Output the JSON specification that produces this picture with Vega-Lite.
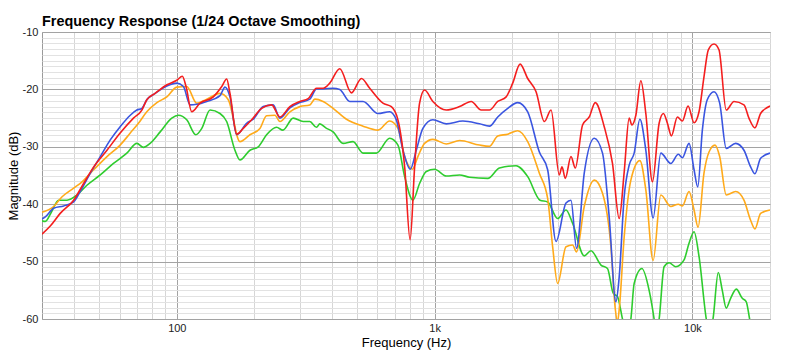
{
"$schema": "https://vega.github.io/schema/vega-lite/v6.json",
"width": 728, "height": 287,
"autosize": {"type": "none"},
"padding": {"left": 42, "top": 32, "right": 30, "bottom": 36},
"background": "white",
"config": {"view": {"stroke": "#9a9a9a", "strokeWidth": 1}, "font": "Liberation Sans"},
"title": {"text": "Frequency Response (1/24 Octave Smoothing)", "anchor": "start", "frame": "group", "font": "Liberation Sans", "fontSize": 14.4, "fontWeight": "bold", "color": "#000", "offset": 3, "dy": 6},
"data": {"values": [
{"s":"s1","f":30,"db":-42.9},{"s":"s1","f":30.9,"db":-43.0},{"s":"s1","f":32.6,"db":-41.4},{"s":"s1","f":34.8,"db":-39.3},{"s":"s1","f":37.5,"db":-39.3},{"s":"s1","f":41.0,"db":-38.4},{"s":"s1","f":44.8,"db":-36.7},{"s":"s1","f":50.5,"db":-34.9},{"s":"s1","f":56.8,"db":-32.9},{"s":"s1","f":64.0,"db":-31.1},{"s":"s1","f":70.0,"db":-29.4},{"s":"s1","f":74.2,"db":-30.1},{"s":"s1","f":78.8,"db":-29.4},{"s":"s1","f":86.2,"db":-27.4},{"s":"s1","f":95.6,"db":-25.0},{"s":"s1","f":101.4,"db":-24.5},{"s":"s1","f":109.3,"db":-25.3},{"s":"s1","f":118.5,"db":-27.9},{"s":"s1","f":125.0,"db":-26.8},{"s":"s1","f":134.6,"db":-23.6},{"s":"s1","f":147.1,"db":-24.2},{"s":"s1","f":156.1,"db":-25.6},{"s":"s1","f":168.1,"db":-30.6},{"s":"s1","f":175.8,"db":-32.3},{"s":"s1","f":192.2,"db":-30.6},{"s":"s1","f":207.0,"db":-30.0},{"s":"s1","f":223.0,"db":-27.9},{"s":"s1","f":243.8,"db":-26.6},{"s":"s1","f":257.9,"db":-27.1},{"s":"s1","f":282.8,"db":-25.0},{"s":"s1","f":309.1,"db":-25.6},{"s":"s1","f":328.1,"db":-25.6},{"s":"s1","f":348.3,"db":-26.6},{"s":"s1","f":358.7,"db":-26.0},{"s":"s1","f":378.4,"db":-26.7},{"s":"s1","f":403.9,"db":-27.4},{"s":"s1","f":441.5,"db":-29.4},{"s":"s1","f":482.6,"db":-29.1},{"s":"s1","f":527.8,"db":-31.1},{"s":"s1","f":594.7,"db":-31.1},{"s":"s1","f":669.4,"db":-28.5},{"s":"s1","f":720.8,"db":-29.7},{"s":"s1","f":765.3,"db":-35.2},{"s":"s1","f":823.9,"db":-39.3},{"s":"s1","f":874.5,"db":-36.4},{"s":"s1","f":928.6,"db":-34.3},{"s":"s1","f":1000,"db":-33.9},{"s":"s1","f":1110,"db":-35.1},{"s":"s1","f":1250,"db":-34.9},{"s":"s1","f":1366,"db":-35.3},{"s":"s1","f":1608,"db":-35.5},{"s":"s1","f":1784,"db":-33.7},{"s":"s1","f":2071,"db":-33.3},{"s":"s1","f":2297,"db":-35.2},{"s":"s1","f":2564,"db":-39.3},{"s":"s1","f":2745,"db":-39.6},{"s":"s1","f":3001,"db":-42.5},{"s":"s1","f":3234,"db":-41.0},{"s":"s1","f":3429,"db":-43.3},{"s":"s1","f":3806,"db":-49.0},{"s":"s1","f":4043,"db":-48.1},{"s":"s1","f":4418,"db":-50.6},{"s":"s1","f":4684,"db":-51.2},{"s":"s1","f":4929,"db":-55.5},{"s":"s1","f":5122,"db":-56.1},{"s":"s1","f":5356,"db":-60.0},{"s":"s1","f":5535,"db":-62.8},{"s":"s1","f":5772,"db":-60.0},{"s":"s1","f":5945,"db":-53.8},{"s":"s1","f":6367,"db":-51.2},{"s":"s1","f":6795,"db":-55.0},{"s":"s1","f":7104,"db":-60.0},{"s":"s1","f":7231,"db":-62.5},{"s":"s1","f":7430,"db":-60.0},{"s":"s1","f":7766,"db":-50.9},{"s":"s1","f":8121,"db":-50.2},{"s":"s1","f":8619,"db":-50.9},{"s":"s1","f":9282,"db":-49.7},{"s":"s1","f":9705,"db":-46.8},{"s":"s1","f":10150,"db":-44.8},{"s":"s1","f":10610,"db":-49.1},{"s":"s1","f":11320,"db":-60.0},{"s":"s1","f":11600,"db":-62.5},{"s":"s1","f":12020,"db":-60.0},{"s":"s1","f":12600,"db":-51.9},{"s":"s1","f":13060,"db":-55.0},{"s":"s1","f":13530,"db":-58.1},{"s":"s1","f":14070,"db":-56.4},{"s":"s1","f":14800,"db":-54.8},{"s":"s1","f":15610,"db":-56.4},{"s":"s1","f":16180,"db":-57.0},{"s":"s1","f":16670,"db":-60.0},{"s":"s1","f":17170,"db":-63.0},
{"s":"s2","f":30,"db":-41.4},{"s":"s2","f":33.3,"db":-40.4},{"s":"s2","f":35.9,"db":-38.7},{"s":"s2","f":39.8,"db":-37.2},{"s":"s2","f":42.9,"db":-36.1},{"s":"s2","f":47.6,"db":-34.0},{"s":"s2","f":53.6,"db":-31.7},{"s":"s2","f":60.3,"db":-29.7},{"s":"s2","f":66.0,"db":-27.6},{"s":"s2","f":71.0,"db":-25.9},{"s":"s2","f":76.5,"db":-23.9},{"s":"s2","f":83.7,"db":-22.3},{"s":"s2","f":91.5,"db":-21.3},{"s":"s2","f":100,"db":-19.6},{"s":"s2","f":109.3,"db":-19.5},{"s":"s2","f":119.5,"db":-22.4},{"s":"s2","f":130.7,"db":-21.7},{"s":"s2","f":147.1,"db":-20.7},{"s":"s2","f":158.4,"db":-21.8},{"s":"s2","f":175.8,"db":-29.1},{"s":"s2","f":192.2,"db":-27.9},{"s":"s2","f":210.1,"db":-26.8},{"s":"s2","f":223.0,"db":-24.6},{"s":"s2","f":240.3,"db":-24.5},{"s":"s2","f":251.1,"db":-25.6},{"s":"s2","f":274.6,"db":-23.9},{"s":"s2","f":300.1,"db":-23.0},{"s":"s2","f":328.1,"db":-22.7},{"s":"s2","f":343.2,"db":-21.7},{"s":"s2","f":369.3,"db":-22.1},{"s":"s2","f":403.9,"db":-23.3},{"s":"s2","f":455.2,"db":-25.2},{"s":"s2","f":527.8,"db":-26.4},{"s":"s2","f":603.1,"db":-27.1},{"s":"s2","f":669.4,"db":-25.5},{"s":"s2","f":720.8,"db":-26.8},{"s":"s2","f":765.3,"db":-31.7},{"s":"s2","f":819.6,"db":-33.9},{"s":"s2","f":861.3,"db":-31.7},{"s":"s2","f":914.5,"db":-29.4},{"s":"s2","f":984.7,"db":-28.7},{"s":"s2","f":1110,"db":-29.5},{"s":"s2","f":1250,"db":-28.9},{"s":"s2","f":1494,"db":-29.7},{"s":"s2","f":1632,"db":-29.9},{"s":"s2","f":1758,"db":-28.1},{"s":"s2","f":1922,"db":-27.8},{"s":"s2","f":2101,"db":-27.2},{"s":"s2","f":2297,"db":-29.1},{"s":"s2","f":2549,"db":-34.6},{"s":"s2","f":2745,"db":-39.0},{"s":"s2","f":2870,"db":-47.4},{"s":"s2","f":3001,"db":-53.8},{"s":"s2","f":3234,"db":-47.4},{"s":"s2","f":3429,"db":-47.1},{"s":"s2","f":3553,"db":-48.3},{"s":"s2","f":3806,"db":-40.4},{"s":"s2","f":4163,"db":-35.8},{"s":"s2","f":4481,"db":-38.1},{"s":"s2","f":4830,"db":-47.4},{"s":"s2","f":5018,"db":-58.1},{"s":"s2","f":5122,"db":-60.5},{"s":"s2","f":5200,"db":-58.4},{"s":"s2","f":5438,"db":-45.7},{"s":"s2","f":5772,"db":-35.8},{"s":"s2","f":6255,"db":-32.4},{"s":"s2","f":6597,"db":-37.5},{"s":"s2","f":7042,"db":-49.8},{"s":"s2","f":7543,"db":-38.4},{"s":"s2","f":8245,"db":-40.4},{"s":"s2","f":8821,"db":-40.0},{"s":"s2","f":9143,"db":-40.3},{"s":"s2","f":9705,"db":-37.8},{"s":"s2","f":10150,"db":-41.0},{"s":"s2","f":10520,"db":-44.0},{"s":"s2","f":11090,"db":-34.6},{"s":"s2","f":11600,"db":-30.9},{"s":"s2","f":12240,"db":-29.7},{"s":"s2","f":12760,"db":-31.7},{"s":"s2","f":13530,"db":-38.4},{"s":"s2","f":14720,"db":-37.8},{"s":"s2","f":15850,"db":-39.3},{"s":"s2","f":16820,"db":-42.8},{"s":"s2","f":17480,"db":-44.3},{"s":"s2","f":18390,"db":-41.6},{"s":"s2","f":20000,"db":-41.0},
{"s":"s3","f":30,"db":-42.6},{"s":"s3","f":30.9,"db":-42.2},{"s":"s3","f":33.3,"db":-40.7},{"s":"s3","f":36.4,"db":-40.3},{"s":"s3","f":39.8,"db":-39.6},{"s":"s3","f":42.2,"db":-37.8},{"s":"s3","f":46.2,"db":-34.6},{"s":"s3","f":50.5,"db":-31.7},{"s":"s3","f":55.2,"db":-28.8},{"s":"s3","f":60.3,"db":-26.5},{"s":"s3","f":66.0,"db":-24.5},{"s":"s3","f":70.0,"db":-23.6},{"s":"s3","f":73.2,"db":-23.3},{"s":"s3","f":76.5,"db":-21.8},{"s":"s3","f":82.4,"db":-20.7},{"s":"s3","f":91.5,"db":-19.4},{"s":"s3","f":100,"db":-18.9},{"s":"s3","f":106.1,"db":-19.5},{"s":"s3","f":112.6,"db":-22.7},{"s":"s3","f":119.5,"db":-22.6},{"s":"s3","f":130.7,"db":-22.1},{"s":"s3","f":147.1,"db":-21.1},{"s":"s3","f":153.8,"db":-19.6},{"s":"s3","f":160.8,"db":-21.3},{"s":"s3","f":170.7,"db":-27.9},{"s":"s3","f":186.6,"db":-25.9},{"s":"s3","f":197.9,"db":-25.2},{"s":"s3","f":216.4,"db":-23.0},{"s":"s3","f":236.5,"db":-22.7},{"s":"s3","f":251.1,"db":-25.0},{"s":"s3","f":274.6,"db":-23.2},{"s":"s3","f":300.1,"db":-22.3},{"s":"s3","f":328.1,"db":-21.7},{"s":"s3","f":348.3,"db":-19.9},{"s":"s3","f":369.3,"db":-19.9},{"s":"s3","f":403.9,"db":-19.8},{"s":"s3","f":428.7,"db":-20.0},{"s":"s3","f":468.6,"db":-22.1},{"s":"s3","f":527.8,"db":-22.1},{"s":"s3","f":603.1,"db":-24.2},{"s":"s3","f":669.4,"db":-23.9},{"s":"s3","f":710.5,"db":-25.3},{"s":"s3","f":753.9,"db":-30.6},{"s":"s3","f":805,"db":-33.9},{"s":"s3","f":849.2,"db":-30.6},{"s":"s3","f":900.7,"db":-26.8},{"s":"s3","f":984.7,"db":-25.3},{"s":"s3","f":1110,"db":-26.0},{"s":"s3","f":1287,"db":-25.5},{"s":"s3","f":1494,"db":-26.0},{"s":"s3","f":1632,"db":-26.4},{"s":"s3","f":1758,"db":-24.8},{"s":"s3","f":1922,"db":-23.3},{"s":"s3","f":2101,"db":-22.3},{"s":"s3","f":2297,"db":-23.9},{"s":"s3","f":2549,"db":-30.9},{"s":"s3","f":2745,"db":-34.0},{"s":"s3","f":2958,"db":-46.5},{"s":"s3","f":3234,"db":-39.8},{"s":"s3","f":3381,"db":-39.3},{"s":"s3","f":3553,"db":-47.7},{"s":"s3","f":3806,"db":-34.6},{"s":"s3","f":4163,"db":-28.5},{"s":"s3","f":4481,"db":-31.1},{"s":"s3","f":4756,"db":-42.2},{"s":"s3","f":5049,"db":-57.0},{"s":"s3","f":5200,"db":-52.7},{"s":"s3","f":5438,"db":-38.7},{"s":"s3","f":5685,"db":-33.2},{"s":"s3","f":5945,"db":-31.1},{"s":"s3","f":6255,"db":-25.2},{"s":"s3","f":6597,"db":-30.6},{"s":"s3","f":7042,"db":-42.4},{"s":"s3","f":7543,"db":-31.1},{"s":"s3","f":8245,"db":-32.9},{"s":"s3","f":8821,"db":-31.3},{"s":"s3","f":9143,"db":-31.9},{"s":"s3","f":9705,"db":-29.4},{"s":"s3","f":10150,"db":-34.0},{"s":"s3","f":10490,"db":-37.0},{"s":"s3","f":10930,"db":-27.1},{"s":"s3","f":11420,"db":-21.8},{"s":"s3","f":12130,"db":-20.4},{"s":"s3","f":12760,"db":-22.4},{"s":"s3","f":13530,"db":-30.3},{"s":"s3","f":14720,"db":-29.4},{"s":"s3","f":15850,"db":-30.6},{"s":"s3","f":16820,"db":-33.5},{"s":"s3","f":17480,"db":-34.7},{"s":"s3","f":18390,"db":-32.0},{"s":"s3","f":20000,"db":-31.1},
{"s":"s4","f":30,"db":-45.2},{"s":"s4","f":32.3,"db":-43.8},{"s":"s4","f":35.3,"db":-41.6},{"s":"s4","f":39.8,"db":-39.3},{"s":"s4","f":43.5,"db":-36.4},{"s":"s4","f":47.6,"db":-33.5},{"s":"s4","f":53.6,"db":-30.6},{"s":"s4","f":60.3,"db":-27.6},{"s":"s4","f":67.9,"db":-25.0},{"s":"s4","f":73.2,"db":-23.6},{"s":"s4","f":76.5,"db":-21.8},{"s":"s4","f":82.4,"db":-20.7},{"s":"s4","f":91.5,"db":-19.2},{"s":"s4","f":100,"db":-18.4},{"s":"s4","f":105.1,"db":-17.7},{"s":"s4","f":108.6,"db":-19.5},{"s":"s4","f":114.3,"db":-23.9},{"s":"s4","f":123.1,"db":-22.4},{"s":"s4","f":138.6,"db":-21.3},{"s":"s4","f":149.4,"db":-19.5},{"s":"s4","f":156.1,"db":-18.2},{"s":"s4","f":160.8,"db":-20.7},{"s":"s4","f":170.7,"db":-27.8},{"s":"s4","f":181.1,"db":-26.8},{"s":"s4","f":195.1,"db":-25.3},{"s":"s4","f":213.3,"db":-23.3},{"s":"s4","f":233.2,"db":-22.7},{"s":"s4","f":251.1,"db":-24.8},{"s":"s4","f":274.6,"db":-23.0},{"s":"s4","f":300.1,"db":-22.1},{"s":"s4","f":323.2,"db":-21.6},{"s":"s4","f":348.3,"db":-19.8},{"s":"s4","f":369.3,"db":-19.8},{"s":"s4","f":392.1,"db":-18.9},{"s":"s4","f":428.7,"db":-16.4},{"s":"s4","f":475.9,"db":-20.6},{"s":"s4","f":520.2,"db":-18.1},{"s":"s4","f":560.1,"db":-19.8},{"s":"s4","f":630.5,"db":-22.4},{"s":"s4","f":679.6,"db":-23.0},{"s":"s4","f":720.8,"db":-25.3},{"s":"s4","f":765.3,"db":-33.5},{"s":"s4","f":803.5,"db":-46.2},{"s":"s4","f":836.6,"db":-33.5},{"s":"s4","f":874.5,"db":-22.4},{"s":"s4","f":914.5,"db":-20.1},{"s":"s4","f":984.7,"db":-22.1},{"s":"s4","f":1110,"db":-23.6},{"s":"s4","f":1250,"db":-23.0},{"s":"s4","f":1387,"db":-22.1},{"s":"s4","f":1516,"db":-23.6},{"s":"s4","f":1632,"db":-23.6},{"s":"s4","f":1758,"db":-22.1},{"s":"s4","f":1895,"db":-21.3},{"s":"s4","f":2009,"db":-18.9},{"s":"s4","f":2146,"db":-15.6},{"s":"s4","f":2297,"db":-18.1},{"s":"s4","f":2475,"db":-20.4},{"s":"s4","f":2666,"db":-25.6},{"s":"s4","f":2829,"db":-23.6},{"s":"s4","f":3046,"db":-34.9},{"s":"s4","f":3120,"db":-33.5},{"s":"s4","f":3214,"db":-35.5},{"s":"s4","f":3381,"db":-31.7},{"s":"s4","f":3513,"db":-33.7},{"s":"s4","f":3750,"db":-26.2},{"s":"s4","f":3980,"db":-24.8},{"s":"s4","f":4200,"db":-22.3},{"s":"s4","f":4550,"db":-26.5},{"s":"s4","f":4898,"db":-32.9},{"s":"s4","f":5200,"db":-42.5},{"s":"s4","f":5438,"db":-34.4},{"s":"s4","f":5685,"db":-25.0},{"s":"s4","f":5824,"db":-26.2},{"s":"s4","f":6035,"db":-24.5},{"s":"s4","f":6310,"db":-18.5},{"s":"s4","f":6597,"db":-24.2},{"s":"s4","f":6999,"db":-36.1},{"s":"s4","f":7430,"db":-25.9},{"s":"s4","f":7720,"db":-24.2},{"s":"s4","f":8000,"db":-25.9},{"s":"s4","f":8290,"db":-28.1},{"s":"s4","f":8744,"db":-24.8},{"s":"s4","f":9143,"db":-25.5},{"s":"s4","f":9619,"db":-22.9},{"s":"s4","f":10150,"db":-25.8},{"s":"s4","f":10610,"db":-23.9},{"s":"s4","f":11090,"db":-17.8},{"s":"s4","f":11530,"db":-13.1},{"s":"s4","f":12130,"db":-12.1},{"s":"s4","f":12680,"db":-13.1},{"s":"s4","f":13530,"db":-23.6},{"s":"s4","f":14500,"db":-22.1},{"s":"s4","f":15850,"db":-22.7},{"s":"s4","f":16570,"db":-25.0},{"s":"s4","f":17480,"db":-26.7},{"s":"s4","f":18390,"db":-24.2},{"s":"s4","f":20000,"db":-22.9}
]},
"mark": {"type": "line", "clip": true, "strokeWidth": 1.6, "interpolate": "monotone"},
"encoding": {
 "x": {"field": "f", "type": "quantitative",
  "scale": {"type": "log", "domain": [30, 20000], "nice": false},
  "axis": {"values": [40,50,60,70,80,90,100,200,300,400,500,600,700,800,900,1000,2000,3000,4000,5000,6000,7000,8000,9000,10000,20000],
   "labelExpr": "datum.value == 100 ? '100' : datum.value == 1000 ? '1k' : datum.value == 10000 ? '10k' : ''",
   "grid": true,
   "gridColor": {"condition": {"test": "datum.value == 100 || datum.value == 1000 || datum.value == 10000", "value": "#a3a3a3"}, "value": "#d6d6d6"},
   "gridWidth": 1, "ticks": false, "tickSize": 0, "domain": false, "labelOverlap": false, "labelPadding": 3,
   "labelFont": "Liberation Sans", "labelFontSize": 11, "labelColor": "#222",
   "title": "Frequency (Hz)", "titleFont": "Liberation Sans", "titleFontSize": 13, "titleFontWeight": "normal", "titleColor": "#000",
   "titleX": 364, "titleY": 27, "titleBaseline": "alphabetic", "titleAnchor": "middle"}},
 "y": {"field": "db", "type": "quantitative",
  "scale": {"domain": [-60, -10], "nice": false, "zero": false},
  "axis": {"values": [-60,-59,-58,-57,-56,-55,-54,-53,-52,-51,-50,-49,-48,-47,-46,-45,-44,-43,-42,-41,-40,-39,-38,-37,-36,-35,-34,-33,-32,-31,-30,-29,-28,-27,-26,-25,-24,-23,-22,-21,-20,-19,-18,-17,-16,-15,-14,-13,-12,-11,-10],
   "labelExpr": "datum.value % 10 == 0 ? '' + datum.value : ''",
   "grid": true,
   "gridColor": {"condition": {"test": "datum.value % 10 == 0", "value": "#a3a3a3"}, "value": "#e2e2e2"},
   "gridWidth": 1, "ticks": false, "tickSize": 0, "domain": false, "labelOverlap": false, "labelPadding": 4,
   "labelFont": "Liberation Sans", "labelFontSize": 11, "labelColor": "#222",
   "title": "Magnitude (dB)", "titleFont": "Liberation Sans", "titleFontSize": 13, "titleFontWeight": "normal", "titleColor": "#000",
   "titleX": -25, "titleY": 143.5, "titleBaseline": "alphabetic", "titleAnchor": "middle", "titleAngle": 270}},
 "color": {"field": "s", "type": "nominal",
  "scale": {"domain": ["s1","s2","s3","s4"], "range": ["#2ecc2e","#ffaa1a","#3a55e0","#f41e1e"]},
  "legend": null}
}
}
